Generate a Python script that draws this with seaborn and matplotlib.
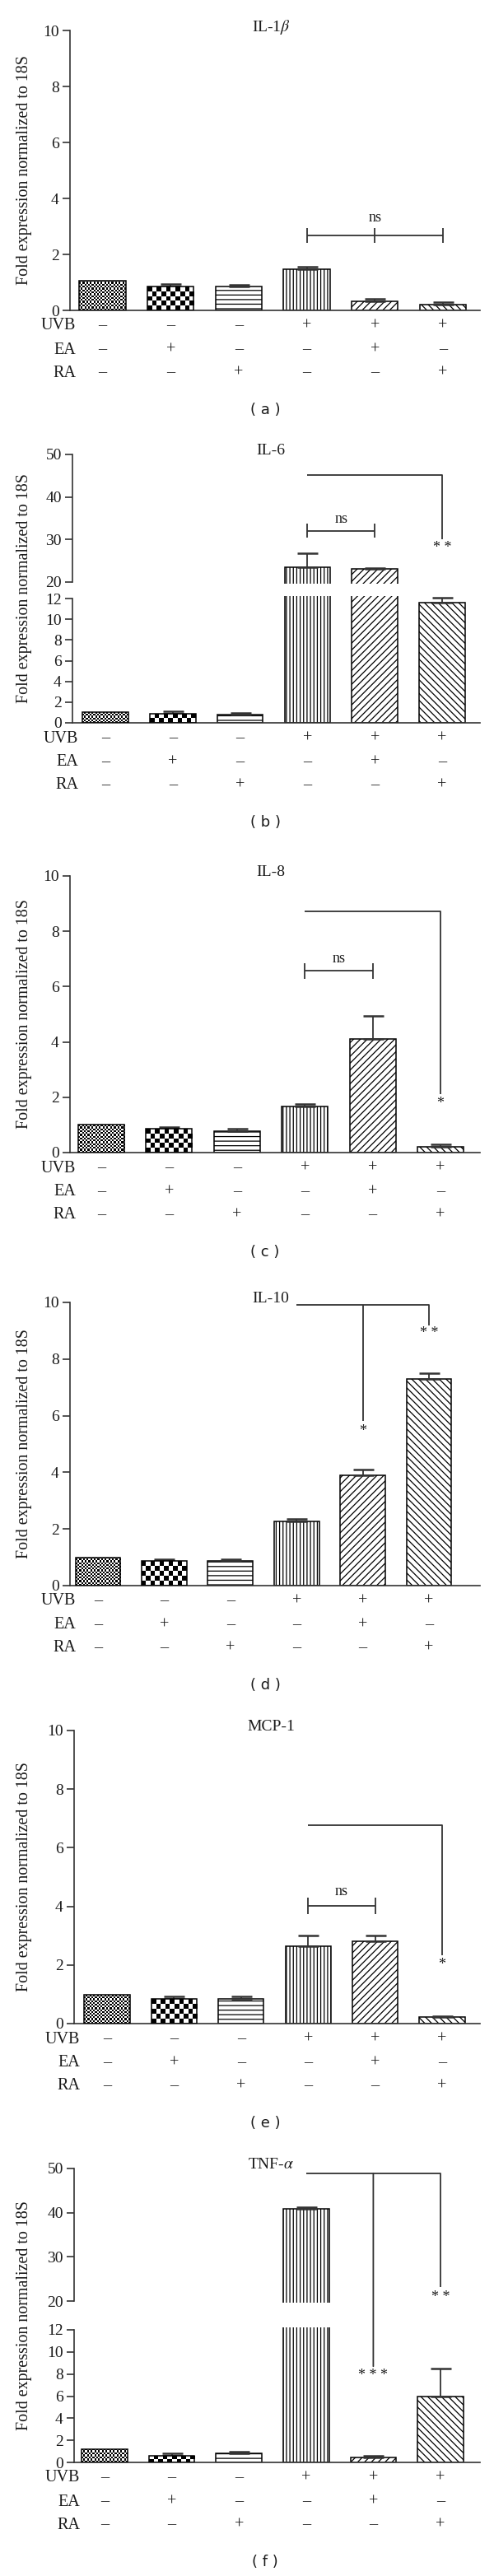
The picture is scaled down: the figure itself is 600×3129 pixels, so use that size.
import numpy as np
import pandas as pd
import seaborn as sns
import matplotlib.pyplot as plt
from matplotlib import transforms
from matplotlib.patches import ConnectionPatch

# conditions and treatment table
conditions = ["ctrl", "EA", "RA", "UVB", "UVB+EA", "UVB+RA"]
uvb_row = ["–", "–", "–", "+", "+", "+"]
ea_row = ["–", "+", "–", "–", "+", "–"]
ra_row = ["–", "–", "+", "–", "–", "+"]
row_names = ["UVB", "EA", "RA"]

# fold expression (mean, upper SEM)
il1b_mean = [1.06, 0.85, 0.85, 1.47, 0.31, 0.21]
il1b_err = [0, 0.08, 0.06, 0.08, 0.09, 0.07]
il6_mean = [1.0, 0.88, 0.8, 23.5, 23.0, 11.6]
il6_err = [0, 0.25, 0.15, 3.3, 0.3, 0.5]
il8_mean = [1.0, 0.85, 0.78, 1.68, 4.1, 0.22]
il8_err = [0, 0.08, 0.07, 0.08, 0.85, 0.07]
il10_mean = [1.0, 0.86, 0.86, 2.28, 3.89, 7.3]
il10_err = [0, 0.08, 0.08, 0.07, 0.22, 0.21]
mcp1_mean = [0.98, 0.83, 0.83, 2.65, 2.82, 0.22]
mcp1_err = [0, 0.09, 0.09, 0.35, 0.18, 0.04]
tnf_mean = [1.22, 0.62, 0.85, 40.9, 0.42, 6.0]
tnf_err = [0, 0.18, 0.15, 0.4, 0.2, 2.5]

# first two bars are checkerboards (cell size in px), the rest are hatches
checker_cells = [2.2, 5.5]
hatches = [None, None, "---", "||||", "////", "\\\\\\\\"]

W, H = 600, 3129
RIGHT = 583
LINE = "#333333"

sns.set_theme(style="ticks")
plt.rcParams["font.family"] = ["Liberation Serif", "DejaVu Serif"]
plt.rcParams["mathtext.fontset"] = "stix"
plt.rcParams["hatch.linewidth"] = 0.9

fig = plt.figure(figsize=(W / 100, H / 100), dpi=100)


def make_ax(left, top, bottom):
    return fig.add_axes([left / W, 1 - bottom / H, (RIGHT - left) / W, (bottom - top) / H])


def style_ax(ax, xlim, ylim, ticks, bounds, bottom=True):
    ax.set_xlim(*xlim)
    ax.set_ylim(*ylim)
    ax.set_yticks(ticks)
    ax.set_xticks([])
    ax.set_xlabel("")
    ax.set_ylabel("")
    ax.set_facecolor("none")
    for s in ["top", "right"]:
        ax.spines[s].set_visible(False)
    ax.spines["left"].set_bounds(*bounds)
    ax.spines["left"].set_color(LINE)
    ax.spines["left"].set_linewidth(1.2)
    ax.spines["bottom"].set_color(LINE)
    ax.spines["bottom"].set_linewidth(1.2)
    ax.spines["bottom"].set_visible(bottom)
    ax.tick_params(axis="y", length=6.5, width=1.2, color=LINE, labelsize=14,
                   labelcolor="#1a1a1a", pad=3)


def draw_bars(ax, mean, err, lo, hi):
    df = pd.DataFrame({"cond": conditions, "value": mean})
    sns.barplot(data=df, x="cond", y="value", order=conditions, color="white",
                saturation=1, edgecolor="black", linewidth=1.1, width=0.68,
                errorbar=None, ax=ax)
    for p, h in zip(ax.patches, hatches):
        p.set_facecolor("white")
        if h:
            p.set_hatch(h)
    idx = [i for i in range(6) if err[i] > 0 and lo <= mean[i] <= hi]
    if idx:
        ax.errorbar(idx, [mean[i] for i in idx],
                    yerr=[[0] * len(idx), [err[i] for i in idx]], fmt="none",
                    ecolor=LINE, elinewidth=1.3, capsize=9, capthick=1.8,
                    clip_on=False, zorder=1)


def add_checkers(ax):
    # fill the first two bars with a checkerboard texture, clipped to the bar
    ylim = ax.get_ylim()
    for p, cell in zip(ax.patches, checker_cells):
        x0, w, h = p.get_x(), p.get_width(), p.get_height()
        top = min(h, ylim[1])
        (px0, py0), (px1, py1) = ax.transData.transform([(x0, 0), (x0 + w, top)])
        nx = max(1, int(round((px1 - px0) / cell)))
        ny = max(1, int(round((py1 - py0) / cell)))
        board = np.indices((ny, nx)).sum(axis=0) % 2
        p.set_facecolor("none")
        p.set_zorder(3)
        img = ax.imshow(board, extent=(x0, x0 + w, 0, top), cmap="gray", vmin=0, vmax=1,
                        interpolation="nearest", aspect="auto", origin="lower", zorder=2)
        img.set_clip_path(p)
    ax.set_ylim(*ylim)


def line(ax, xs, ys):
    ax.plot(xs, ys, color=LINE, lw=1.3, clip_on=False, solid_capstyle="butt")


def note(ax, x, y, s):
    ax.text(x, y, s, ha="center", va="center", fontsize=13, color="#1a1a1a", clip_on=False)


def labels(ax, lay, title, tag):
    zero, left, top = lay["zero"], lay["left"], lay["top"]
    trans = transforms.blended_transform_factory(ax.transData, fig.transFigure)
    for off, name, row in zip([19, 48, 76], row_names, [uvb_row, ea_row, ra_row]):
        yf = 1 - (zero + off) / H
        fig.text((left + 7) / W, yf, name, ha="right", va="center", fontsize=14.5,
                 color="#1a1a1a")
        for i, s in enumerate(row):
            ax.text(i, yf, s, transform=trans, ha="center", va="center",
                    fontsize=14.5, color="#1a1a1a", clip_on=False)
    fig.text(329 / W, 1 - (top - 4) / H, title, ha="center", va="center",
             fontsize=14, color="#1a1a1a")
    fig.text(30 / W, 1 - (top + zero) / 2 / H, "Fold expression normalized to 18S",
             rotation=90, ha="center", va="center", fontsize=14.4, color="#1a1a1a")
    fig.text(322 / W, 1 - (zero + 121) / H, "( %s )" % tag, ha="center", va="center",
             fontsize=13, family="DejaVu Sans", color="#1a1a1a")


def xlim_of(lay):
    s = (lay["c6"] - lay["c1"]) / 5
    return ((lay["left"] - lay["c1"]) / s, (RIGHT - lay["c1"]) / s)


def single_panel(lay, mean, err, title, tag):
    ax = make_ax(lay["left"], lay["top"], lay["zero"])
    draw_bars(ax, mean, err, 0, 10)
    style_ax(ax, xlim_of(lay), (0, 10), range(0, 11, 2), (0, 10))
    add_checkers(ax)
    labels(ax, lay, title, tag)
    return ax


def broken_panel(lay, mean, err, title, tag):
    up_unit = (lay["brk_hi"] - lay["top"]) / 30
    lo_unit = (lay["zero"] - lay["brk_lo"]) / 12
    up = make_ax(lay["left"], lay["top"], lay["brk_hi"] + 0.4 * up_unit)
    low = make_ax(lay["left"], lay["brk_lo"] - 0.25 * lo_unit, lay["zero"])
    draw_bars(up, mean, err, 19.6, 50)
    draw_bars(low, mean, err, 0, 12)
    style_ax(up, xlim_of(lay), (19.6, 50), range(20, 51, 10), (20, 50), bottom=False)
    style_ax(low, xlim_of(lay), (0, 12.25), range(0, 13, 2), (0, 12))
    add_checkers(low)
    labels(low, lay, title, tag)
    return up, low


lay_a = dict(left=85, top=37, zero=377, c1=124.5, c6=538)
lay_b = dict(left=88, top=552, brk_hi=707, brk_lo=727, zero=878, c1=128, c6=537)
lay_c = dict(left=85, top=1064, zero=1400, c1=123, c6=535)
lay_d = dict(left=85, top=1582, zero=1926, c1=119, c6=521)
lay_e = dict(left=90, top=2102, zero=2458, c1=130, c6=537)
lay_f = dict(left=90, top=2634, brk_hi=2795, brk_lo=2830, zero=2991, c1=127, c6=535)

# (a) IL-1beta
ax = single_panel(lay_a, il1b_mean, il1b_err, r"IL-1$\beta$", "a")
line(ax, [3, 5], [2.68, 2.68])
for t in [3, 4, 5]:
    line(ax, [t, t], [2.42, 2.95])
note(ax, 4, 3.3, "ns")

# (b) IL-6
up, low = broken_panel(lay_b, il6_mean, il6_err, "IL-6", "b")
line(up, [3, 4], [32.0, 32.0])
line(up, [3, 3], [30.4, 33.8])
line(up, [4, 4], [30.4, 33.8])
note(up, 3.5, 34.8, "ns")
line(up, [3, 5, 5], [45.2, 45.2, 30.1])
note(up, 5, 28.0, "* *")

# (c) IL-8
ax = single_panel(lay_c, il8_mean, il8_err, "IL-8", "c")
line(ax, [3, 4], [6.57, 6.57])
line(ax, [3, 3], [6.29, 6.85])
line(ax, [4, 4], [6.29, 6.85])
note(ax, 3.5, 7.0, "ns")
line(ax, [3, 5, 5], [8.73, 8.73, 2.1])
note(ax, 5, 1.78, "*")

# (d) IL-10
ax = single_panel(lay_d, il10_mean, il10_err, "IL-10", "d")
line(ax, [3, 5, 5], [9.9, 9.9, 9.2])
line(ax, [4, 4], [9.9, 5.8])
note(ax, 4, 5.45, "*")
note(ax, 5, 8.9, "* *")

# (e) MCP-1
ax = single_panel(lay_e, mcp1_mean, mcp1_err, "MCP-1", "e")
line(ax, [3, 4], [4.01, 4.01])
line(ax, [3, 3], [3.73, 4.3])
line(ax, [4, 4], [3.73, 4.3])
note(ax, 3.5, 4.5, "ns")
line(ax, [3, 5, 5], [6.76, 6.76, 2.33])
note(ax, 5, 2.0, "*")

# (f) TNF-alpha
up, low = broken_panel(lay_f, tnf_mean, tnf_err, r"TNF-$\alpha$", "f")
line(up, [3, 5, 5], [48.9, 48.9, 23.1])
note(up, 5, 20.9, "* *")
con = ConnectionPatch(xyA=(4, 48.9), coordsA=up.transData, xyB=(4, 8.7),
                      coordsB=low.transData, color=LINE, lw=1.3)
fig.add_artist(con)
note(low, 4, 7.9, "* * *")

fig.savefig("out.png", dpi=100, facecolor="white")
